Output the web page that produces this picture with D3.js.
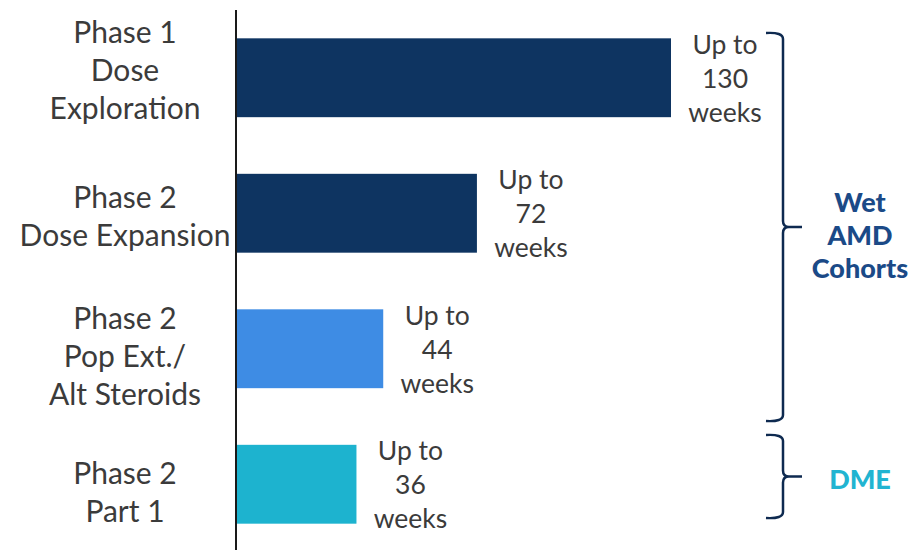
<!DOCTYPE html>
<html><head><meta charset="utf-8">
<script src="https://cdn.jsdelivr.net/npm/d3@7"></script>
<style>body{margin:0;background:#fff;}svg{display:block;}</style>
</head><body>
<svg id="chart" width="912" height="550"></svg>
<script>
const categories = ["Phase 1|Dose|Exploration", "Phase 2|Dose Expansion", "Phase 2|Pop Ext./|Alt Steroids", "Phase 2|Part 1"];
const values = [130, 72, 44, 36];
const valueLabels = ["Up to|130|weeks", "Up to|72|weeks", "Up to|44|weeks", "Up to|36|weeks"];
const barColors = ["#0e3461", "#0e3461", "#3e8ce4", "#1db3cf"];
const groups = [
  {label: "Wet|AMD|Cohorts", from: 0, to: 2, color: "#1b4a87"},
  {label: "DME", from: 3, to: 3, color: "#21b4d1"}
];

const svg = d3.select("#chart");
const x = d3.scaleLinear().domain([0, 130]).range([236, 671]);
const y = d3.scaleBand().domain(categories).range([10, 552]).paddingInner(0.418).paddingOuter(0.209);

// bars
svg.selectAll("rect.bar").data(values).join("rect")
  .attr("class", "bar")
  .attr("x", x(0))
  .attr("y", (d, i) => y(categories[i]))
  .attr("width", d => x(d) - x(0))
  .attr("height", y.bandwidth())
  .attr("fill", (d, i) => barColors[i]);

// axis line
const yAxis = d3.axisLeft(y).tickSize(0).tickFormat("");
const ax = svg.append("g").attr("transform", `translate(${x(0)},0)`).call(yAxis);
ax.select(".domain").remove();
svg.append("line").attr("x1", x(0)).attr("x2", x(0)).attr("y1", 10).attr("y2", 550)
  .attr("stroke", "#1a1a1a").attr("stroke-width", 2);

const textColor = "#3b3b3b";
const font = "Lato, 'Open Sans', sans-serif";

// category labels (small per-row vertical nudges to match the original layout)
const labelNudge = [-7, 4, 8, 9];
categories.forEach((c, i) => {
  const lines = c.split("|");
  const lh = 38;
  const cy = y(c) + y.bandwidth() / 2 + labelNudge[i];
  const t = svg.append("text").attr("x", 125).attr("text-anchor", "middle")
    .attr("font-family", font).attr("font-size", 30).attr("fill", textColor);
  lines.forEach((l, j) => {
    t.append("tspan").attr("x", 125)
      .attr("y", cy + (j - (lines.length - 1) / 2) * lh + 10)
      .text(l);
  });
});

// value labels
values.forEach((v, i) => {
  const lines = valueLabels[i].split("|");
  const lh = 34;
  const cx = x(v) + 54;
  const cy = y(categories[i]) + y.bandwidth() / 2;
  const t = svg.append("text").attr("text-anchor", "middle")
    .attr("font-family", font).attr("font-size", 26.5).attr("fill", textColor);
  lines.forEach((l, j) => {
    t.append("tspan").attr("x", cx).attr("y", cy + (j - 1) * lh + 10).text(l);
  });
});

// brackets
const bx = 783;
groups.forEach(g => {
  let top, bot;
  if (g.from === 0) { top = 33; bot = 421; } else { top = 435; bot = 518; }
  const mid = (top + bot) / 2;
  const path = `M${bx - 17},${top} Q${bx},${top - 1} ${bx},${top + 6} L${bx},${mid - 6} Q${bx},${mid} ${bx + 6},${mid} L${bx + 19},${mid}
    M${bx + 6},${mid} Q${bx},${mid} ${bx},${mid + 6} L${bx},${bot - 6} Q${bx},${bot + 1} ${bx - 17},${bot}`;
  svg.append("path").attr("d", path).attr("fill", "none").attr("stroke", "#0e2a50").attr("stroke-width", 2.5);
  const lines = g.label.split("|");
  const lh = 33;
  const t = svg.append("text").attr("text-anchor", "middle")
    .attr("font-family", font).attr("font-weight", "900").attr("font-size", 27).attr("fill", g.color);
  lines.forEach((l, j) => {
    t.append("tspan").attr("x", 860).attr("y", mid + (j - (lines.length - 1) / 2) * lh + 10 + (lines.length > 1 ? 8 : 2)).text(l);
  });
});
</script>
</body></html>
